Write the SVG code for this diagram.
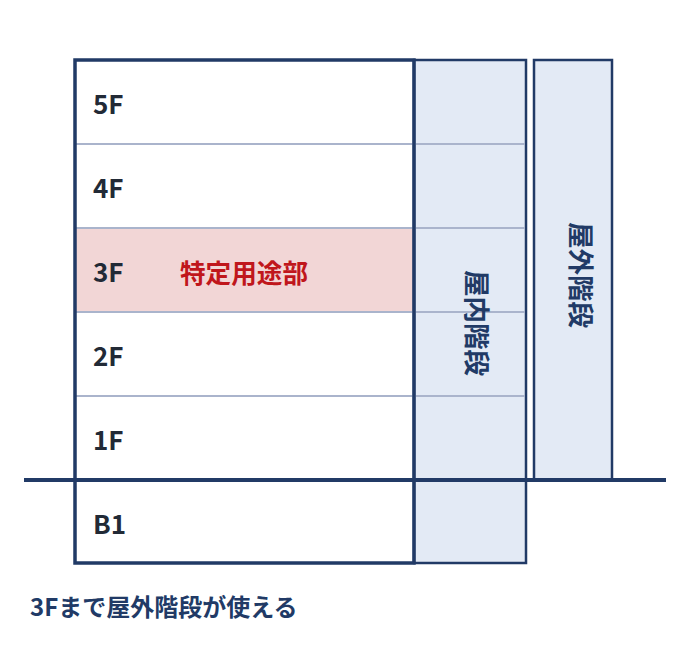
<svg xmlns="http://www.w3.org/2000/svg" width="690" height="645" viewBox="0 0 690 645">
<style>
text{font-family:"Noto Sans CJK JP","Noto Sans",sans-serif;font-weight:bold}
.fl{font-size:26px;fill:#222a36}
.floorline{stroke:#aab4cc;stroke-width:2}
.stair{fill:#e3eaf5;stroke:#213a66;stroke-width:2.5}
.vt{font-size:26.5px;fill:#213a66}
</style>
<rect width="690" height="645" fill="#ffffff"/>
<g id="floor3-use">
<rect x="75" y="228" width="339" height="84" fill="#f2d6d6"/>
<text x="180" y="283" fill="#c0161c" style="font-size:25.6px">特定用途部</text>
</g>
<g id="indoor-stair">
<rect class="stair" x="414" y="60" width="112" height="503"/>
</g>
<g id="outdoor-stair">
<rect class="stair" x="534" y="60" width="78" height="420"/>
</g>
<g id="floor-lines">
<line class="floorline" x1="76" y1="144" x2="525" y2="144"/>
<line class="floorline" x1="76" y1="228" x2="525" y2="228"/>
<line class="floorline" x1="76" y1="312" x2="525" y2="312"/>
<line class="floorline" x1="76" y1="396" x2="525" y2="396"/>
</g>
<g id="building">
<rect x="75" y="60" width="339" height="503" fill="none" stroke="#213a66" stroke-width="3.5"/>
<text class="fl" x="93" y="114">5F</text>
<text class="fl" x="93" y="198">4F</text>
<text class="fl" x="93" y="282">3F</text>
<text class="fl" x="93" y="366">2F</text>
<text class="fl" x="93" y="450">1F</text>
<text class="fl" x="93" y="534">B1</text>
</g>
<g id="ground">
<line x1="24" y1="480" x2="666" y2="480" stroke="#213a66" stroke-width="4"/>
</g>
<g id="stair-labels">
<text class="vt" x="0" y="0" text-anchor="middle" dominant-baseline="central" transform="translate(478,323) rotate(90)">屋内階段</text>
<text class="vt" x="0" y="0" text-anchor="middle" dominant-baseline="central" transform="translate(582,275) rotate(90)">屋外階段</text>
</g>
<g id="caption">
<text x="30" y="616" fill="#213a66" style="font-size:24px">3Fまで屋外階段が使える</text>
</g>
</svg>
